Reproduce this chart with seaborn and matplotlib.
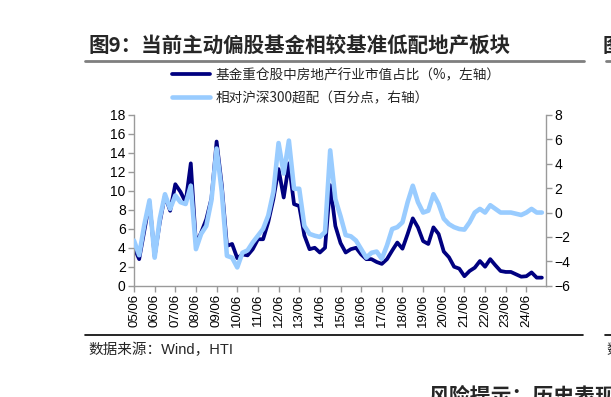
import matplotlib
matplotlib.use("Agg")
import matplotlib.pyplot as plt
from matplotlib.lines import Line2D
import pandas as pd
import seaborn as sns

# quarterly points, 05Q2 .. 25Q1
TICK_LABELS = ["05/06", "06/06", "07/06", "08/06", "09/06", "10/06", "11/06",
               "12/06", "13/06", "14/06", "15/06", "16/06", "17/06", "18/06",
               "19/06", "20/06", "21/06", "22/06", "23/06", "24/06"]

# 基金重仓股中房地产行业市值占比 (%, left axis)
HOLDING = [4.0, 2.8, 5.8, 8.8, 3.1, 6.7, 9.5, 7.9, 10.7, 9.9,
           8.8, 12.9, 4.4, 5.6, 7.0, 9.2, 15.2, 10.6, 4.2, 4.4,
           2.9, 3.3, 3.2, 3.85, 4.9, 4.9, 6.7, 9.15, 12.3, 9.3,
           12.9, 8.6, 8.4, 5.3, 3.85, 4.0, 3.5, 4.0, 10.6, 6.3,
           4.5, 3.5, 3.85, 4.0, 3.3, 2.8, 2.8, 2.5, 2.3, 2.8,
           3.7, 4.55, 3.9, 5.45, 7.1, 6.15, 4.7, 4.4, 6.15, 5.45,
           3.6, 3.0, 2.0, 1.8, 1.0, 1.55, 1.9, 2.6, 2.0, 2.8,
           2.15, 1.55, 1.45, 1.45, 1.2, 0.95, 1.0, 1.4, 0.85, 0.85]

# 相对沪深300超配 (pct points, right axis)
OVERWEIGHT = [-2.3, -3.5, -1.0, 1.0, -3.7, -0.5, 1.5, 0.3, 1.4, 0.85,
              0.7, 2.2, -3.0, -1.75, -1.1, 1.0, 5.25, 1.7, -3.55, -3.7,
              -4.5, -3.3, -3.1, -2.45, -1.9, -1.35, -0.25, 1.7, 5.7, 3.2,
              5.9, 1.95, 1.95, -1.1, -1.75, -1.9, -2.0, -1.6, 5.1, 1.1,
              -0.3, -1.85, -1.95, -2.3, -3.0, -3.7, -3.3, -3.2, -3.8, -2.7,
              -1.35, -1.2, -0.8, 0.85, 2.2, 0.85, 0.0, 0.15, 1.5, 0.7,
              -0.5, -0.95, -1.2, -1.35, -1.4, -0.8, 0.0, 0.3, 0.0, 0.6,
              0.3, 0.0, 0.0, 0.0, -0.1, -0.2, 0.0, 0.3, 0.0, 0.0]

LABELS = ["基金重仓股中房地产行业市值占比（%，左轴）", "相对沪深300超配（百分点，右轴）"]

df = pd.DataFrame({"q": range(len(HOLDING)), "holding": HOLDING, "over": OVERWEIGHT})

sns.set_theme(style="white")
plt.rcParams["font.family"] = ["Liberation Sans", "Noto Sans CJK SC", "DejaVu Sans"]
cjk = ["Noto Sans CJK SC", "DejaVu Sans"]

W, H = 611, 397
fig = plt.figure(figsize=(W / 100, H / 100), dpi=100)
ax = fig.add_axes([134 / W, 1 - 285.7 / H, 412 / W, 170.7 / H])
ax2 = ax.twinx()

sns.lineplot(data=df, x="q", y="holding", ax=ax, color="#000080", lw=2.7, legend=False)
sns.lineplot(data=df, x="q", y="over", ax=ax2, color="#99CCFF", lw=3.3, legend=False)
for ln in ax.lines + ax2.lines:
    ln.set_solid_joinstyle("round")
    ln.set_solid_capstyle("round")

ax.set_xlim(0, 79.8)
ax.set_ylim(0, 18)
ax2.set_ylim(-6, 8)
ax.set_yticks(range(0, 19, 2))
ax2.set_yticks(range(-6, 9, 2))
ax.set_xticks(range(0, 4 * len(TICK_LABELS), 4))
ax.set_xticklabels(TICK_LABELS, rotation=90, fontsize=9.5)
for a in (ax, ax2):
    a.set_xlabel("")
    a.set_ylabel("")
    a.grid(False)

grey = "#9a9a9a"
ax.tick_params(axis="both", direction="out", length=4, width=1, color=grey,
               labelsize=10, pad=2, bottom=True, left=True, labelcolor="black")
ax.tick_params(axis="x", labelsize=9.5)
ax2.tick_params(axis="y", direction="out", length=4, width=1, color=grey,
                labelsize=10, pad=2, right=True, labelcolor="black")
for s in ("top", "right"):
    ax.spines[s].set_visible(False)
for s in ("top", "left", "bottom"):
    ax2.spines[s].set_visible(False)
for sp in (ax.spines["left"], ax.spines["bottom"], ax2.spines["right"]):
    sp.set_color(grey)
    sp.set_linewidth(1)

fig.legend([ax.lines[0], ax2.lines[0]], LABELS, loc="upper left",
           bbox_to_anchor=(172 / W, 1 - 68 / H), frameon=False,
           prop={"family": cjk, "size": 9.8}, handlelength=2.8,
           handletextpad=0.4, labelspacing=0.65, borderpad=0, borderaxespad=0)

# title, rules and notes
fig.text(88 / W, 1 - 46 / H, "图9：当前主动偏股基金相较基准低配地产板块",
         fontsize=14.8, fontweight="bold", va="center", family=cjk)
fig.text(603 / W, 1 - 46 / H, "图", fontsize=14.5, fontweight="bold",
         va="center", family=cjk)
fig.add_artist(Line2D([85 / W, 584 / W], [1 - 61 / H] * 2, color="#7f7f7f",
                      lw=2, transform=fig.transFigure))
fig.add_artist(Line2D([606 / W, 1], [1 - 61 / H] * 2, color="#7f7f7f",
                      lw=2, transform=fig.transFigure))
fig.add_artist(Line2D([85 / W, 583 / W], [1 - 335 / H] * 2, color="black",
                      lw=1.2, transform=fig.transFigure))
fig.add_artist(Line2D([605 / W, 1], [1 - 335 / H] * 2, color="black",
                      lw=1.2, transform=fig.transFigure))
fig.text(88 / W, 1 - 350 / H, "数据来源：Wind，HTI", fontsize=10.5, va="center")
fig.text(606 / W, 1 - 350 / H, "数", fontsize=10.5, va="center", family=cjk)
fig.text(428 / W, 1 - 386 / H, "风险提示：历史表现", fontsize=15,
         fontweight="bold", va="top", family=cjk)

fig.savefig("out.png", dpi=100)
